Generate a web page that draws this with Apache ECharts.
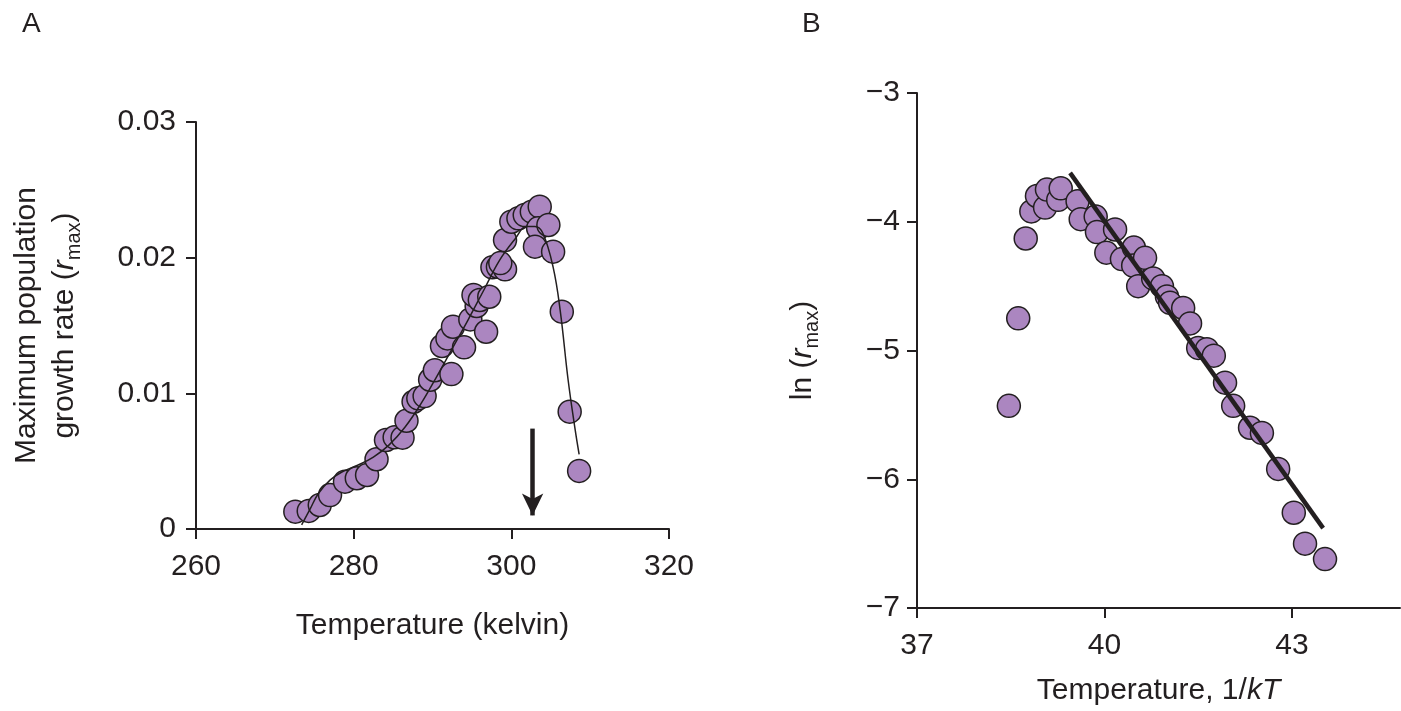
<!DOCTYPE html>
<html>
<head>
<meta charset="utf-8">
<script src="https://cdn.jsdelivr.net/npm/echarts@6/dist/echarts.min.js"></script>
<style>
  html, body { margin: 0; padding: 0; background: #fff; }
  #main { width: 1401px; height: 711px; }
</style>
</head>
<body>
<div id="main"></div>
<script>
// panel A: temperature (K) vs r_max
var tempA = [272.6, 274.3, 275.7, 277.0, 278.9, 280.4, 281.7, 282.9, 284.1, 285.2, 286.2, 286.7,
  287.6, 288.2, 289.0, 289.7, 290.3, 292.4, 291.2, 291.9, 292.6, 294.0, 294.8, 295.6, 295.2,
  296.0, 296.8, 297.2, 297.6, 298.3, 299.2, 298.6, 299.2, 300.0, 300.9, 301.7, 302.6, 303.6,
  303.4, 304.7, 303.0, 305.3, 306.4, 307.4, 308.6];
var rmaxA = [0.00128, 0.00133, 0.00177, 0.0025, 0.00349, 0.00374, 0.00398, 0.00514, 0.00656,
  0.00676, 0.00673, 0.00798, 0.00938, 0.00963, 0.0098, 0.011, 0.0117, 0.01142, 0.01349, 0.01405,
  0.01491, 0.01339, 0.01545, 0.01644, 0.01725, 0.01688, 0.01454, 0.01712, 0.01929, 0.01933,
  0.01914, 0.0196, 0.0213, 0.02265, 0.0229, 0.02314, 0.02339, 0.02376, 0.02216, 0.02241,
  0.02081, 0.02044, 0.01602, 0.00865, 0.00428];
// fitted curve in A
var fitTempA = [273.4, 274.5, 275.5, 277.0, 278.5, 280.5, 282.5, 284.5, 286.5, 288.5, 290.5,
  292.5, 294.5, 296.5, 298.5, 300.5, 301.9, 303.0, 304.0, 305.3, 306.2, 307.2, 308.1, 308.6];
var fitRmaxA = [0.0003, 0.0015, 0.0026, 0.0036, 0.0042, 0.0047, 0.0053, 0.0062, 0.0075, 0.0092,
  0.0112, 0.0133, 0.0154, 0.0176, 0.0198, 0.0214, 0.0223, 0.0223, 0.0218, 0.0193, 0.0161,
  0.011, 0.0073, 0.0055];
// arrow in A
var arrowT = [302.7, 302.7];
var arrowR = [0.0074, 0.001];
var ticksA_x = [260, 280, 300, 320];
var ticksA_y = [0, 0.01, 0.02, 0.03];

// panel B: 1/kT vs ln(r_max)
var invKT = [38.47, 38.62, 38.74, 38.83, 38.92, 39.05, 39.08, 39.26, 39.30, 39.57, 39.62, 39.86,
  39.88, 40.17, 40.03, 40.28, 40.47, 40.46, 40.65, 40.54, 40.78, 40.92, 41.00, 41.05, 41.26,
  41.37, 41.50, 41.64, 41.75, 41.93, 42.06, 42.33, 42.52, 42.78, 43.03, 43.21, 43.53];
var lnRmax = [-5.43, -4.75, -4.13, -3.92, -3.80, -3.89, -3.75, -3.83, -3.74, -3.84, -3.98, -3.96,
  -4.08, -4.06, -4.24, -4.29, -4.20, -4.34, -4.28, -4.50, -4.44, -4.50, -4.58, -4.63, -4.67,
  -4.79, -4.98, -4.99, -5.04, -5.25, -5.43, -5.60, -5.64, -5.92, -6.26, -6.50, -6.62];
var fitX_B = [39.45, 43.50];
var fitY_B = [-3.62, -6.38];
var ticksB_x = [37, 40, 43];
var ticksB_y = [-7, -6, -5, -4, -3];

var ink = "#231f20";
var purple = "#ab86c0";
var font = "Liberation Sans";
var fs = 30;

function zip(a, b) {
  return a.map(function (v, i) { return [v, b[i]]; });
}
function minus(v) {
  return v < 0 ? "\u2212" + Math.abs(v) : String(v);
}

var chartDom = document.getElementById("main");
var myChart = echarts.init(chartDom);
var option;

var axisCommon = {
  axisLine: { show: true, lineStyle: { color: ink, width: 2 } },
  splitLine: { show: false },
};

var subRich = {
  i: { fontFamily: font, fontSize: fs, fontStyle: "italic", color: ink, lineHeight: 38 },
  s: { fontFamily: font, fontSize: 20, color: ink, lineHeight: 20, verticalAlign: "bottom" },
  n: { fontFamily: font, fontSize: fs, color: ink, lineHeight: 38 },
};

option = {
  animation: false,
  title: [
    { text: "A", left: 17, top: 5, textStyle: { fontFamily: font, fontSize: 28, fontWeight: "normal", color: ink } },
    { text: "B", left: 797, top: 5, textStyle: { fontFamily: font, fontSize: 28, fontWeight: "normal", color: ink } },
  ],
  grid: [
    { left: 196, top: 122, width: 473, height: 407 },
    { left: 917, top: 93, width: 483, height: 516 },
  ],
  xAxis: [
    Object.assign({}, axisCommon, {
      gridIndex: 0, type: "value", min: 260, max: 320, interval: 20,
      axisLabel: { customValues: ticksA_x, margin: 23, fontFamily: font, fontSize: fs, color: ink },
      axisTick: { show: true, length: 10, customValues: ticksA_x, lineStyle: { color: ink, width: 2 } },
      name: "Temperature (kelvin)", nameLocation: "middle", nameGap: 82,
      nameTextStyle: { fontFamily: font, fontSize: fs, color: ink },
    }),
    Object.assign({}, axisCommon, {
      gridIndex: 1, type: "value", min: 37, max: 44.73,
      axisLabel: { customValues: ticksB_x, margin: 23, fontFamily: font, fontSize: fs, color: ink },
      axisTick: { show: true, length: 10, customValues: ticksB_x, lineStyle: { color: ink, width: 2 } },
      name: "{n|Temperature, 1/}{i|kT}", nameLocation: "middle", nameGap: 64,
      nameTextStyle: { rich: subRich },
    }),
  ],
  yAxis: [
    Object.assign({}, axisCommon, {
      gridIndex: 0, type: "value", min: 0, max: 0.03, interval: 0.01,
      axisLabel: { customValues: ticksA_y, margin: 20, fontFamily: font, fontSize: fs, color: ink },
      axisTick: { show: true, length: 10, customValues: ticksA_y, lineStyle: { color: ink, width: 2 } },
      name: "{n|Maximum population}\n{n|growth rate (}{i|r}{s|max}{n|)}",
      nameLocation: "middle", nameGap: 112, nameRotate: 90,
      nameTextStyle: { rich: subRich, align: "center" },
    }),
    Object.assign({}, axisCommon, {
      gridIndex: 1, type: "value", min: -7, max: -3, interval: 1,
      axisLabel: { customValues: ticksB_y, margin: 17, fontFamily: font, fontSize: fs, color: ink, formatter: minus },
      axisTick: { show: true, length: 10, customValues: ticksB_y, lineStyle: { color: ink, width: 2 } },
      name: "{n|ln (}{i|r}{s|max}{n|)}", nameLocation: "middle", nameGap: 95, nameRotate: 90,
      nameTextStyle: { rich: subRich },
    }),
  ],
  series: [
    {
      name: "r_max",
      type: "scatter",
      xAxisIndex: 0, yAxisIndex: 0,
      symbolSize: 23,
      itemStyle: { color: purple, borderColor: ink, borderWidth: 1.5, opacity: 1 },
      data: zip(tempA, rmaxA),
    },
    {
      name: "fit A",
      type: "line",
      xAxisIndex: 0, yAxisIndex: 0,
      smooth: 0.4,
      showSymbol: false,
      lineStyle: { color: ink, width: 1.5 },
      data: zip(fitTempA, fitRmaxA),
      markLine: {
        silent: true,
        symbol: ["none", "arrow"],
        symbolSize: [16, 22],
        label: { show: false },
        lineStyle: { color: ink, width: 4.5, type: "solid" },
        data: [[{ coord: [arrowT[0], arrowR[0]] }, { coord: [arrowT[1], arrowR[1]] }]],
      },
    },
    {
      name: "ln r_max",
      type: "scatter",
      xAxisIndex: 1, yAxisIndex: 1,
      symbolSize: 23,
      itemStyle: { color: purple, borderColor: ink, borderWidth: 1.5, opacity: 1 },
      data: zip(invKT, lnRmax),
    },
    {
      name: "fit B",
      type: "line",
      xAxisIndex: 1, yAxisIndex: 1,
      showSymbol: false,
      lineStyle: { color: ink, width: 4.5 },
      data: zip(fitX_B, fitY_B),
    },
  ],
};

option && myChart.setOption(option);
</script>
</body>
</html>
